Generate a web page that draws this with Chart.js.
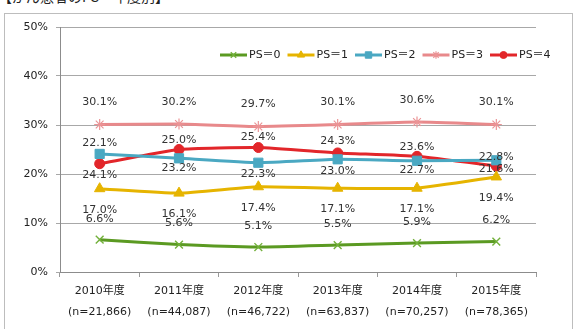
<!DOCTYPE html>
<html>
<head>
<meta charset="utf-8">
<script src="https://cdn.jsdelivr.net/npm/chart.js@4.4.1/dist/chart.umd.min.js"></script>
<style>
  body { margin: 0; background: #fff; }
  #wrap { position: relative; width: 576px; height: 329px; overflow: hidden; }
  #frame { position: absolute; left: 4px; top: 13px; width: 569px; height: 340px; border: 1px solid #bdbdbd; box-sizing: border-box; }
  #title { position: absolute; left: -2px; top: -12px; font: 14px/16px "Noto Sans CJK JP", sans-serif; color: #222; white-space: nowrap; }
  canvas { position: absolute; left: 0; top: 0; }
</style>
</head>
<body>
<div id="wrap">
  <div id="frame"></div>
  <div id="title">【がん患者のPS・年度別】</div>
  <canvas id="myChart" width="576" height="329"></canvas>
</div>
<script>
const years = ['2010年度', '2011年度', '2012年度', '2013年度', '2014年度', '2015年度']
const counts = ['(n=21,866)', '(n=44,087)', '(n=46,722)', '(n=63,837)', '(n=70,257)', '(n=78,365)']
const yTicks = [0, 10, 20, 30, 40, 50]

const ps0 = [6.6, 5.6, 5.1, 5.5, 5.9, 6.2]
const ps1 = [17.0, 16.1, 17.4, 17.1, 17.1, 19.4]
const ps2 = [24.1, 23.2, 22.3, 23.0, 22.7, 22.8]
const ps3 = [30.1, 30.2, 29.7, 30.1, 30.6, 30.1]
const ps4 = [22.1, 25.0, 25.4, 24.3, 23.6, 21.6]

const FONT = '"DejaVu Sans", "Noto Sans CJK JP", sans-serif'

// label offsets (px) from each point, negative = above
const labelShift = [
  [-21, -21, -21, -21, -21, -21],
  [21, 21, 21, 21, 21, 21],
  [21, 10, 11, 12, 9, -3],
  [-22, -22, -22, -22, -22, -22],
  [-21, -9, -10, -12, -9, 3],
]

const series = [
  { label: 'PS＝0', data: ps0, color: '#5b9a22', marker: '#72b03a', style: 'crossRot', r: 5.5, bw: 1.4 },
  { label: 'PS＝1', data: ps1, color: '#e6b400', marker: '#e6b400', style: 'triangle', r: 6, bw: 1 },
  { label: 'PS＝2', data: ps2, color: '#4aa8c2', marker: '#4aa8c2', style: 'rect', r: 6.5, bw: 1 },
  { label: 'PS＝3', data: ps3, color: '#e8898b', marker: '#eb9496', style: 'star', r: 5.5, bw: 1.2 },
  { label: 'PS＝4', data: ps4, color: '#e2262a', marker: '#e2262a', style: 'circle', r: 5, bw: 1 },
]

const valueLabels = {
  id: 'valueLabels',
  afterDatasetsDraw(chart) {
    const ctx = chart.ctx
    ctx.save()
    ctx.font = '11px ' + FONT
    ctx.fillStyle = '#333'
    ctx.textAlign = 'center'
    ctx.textBaseline = 'middle'
    chart.data.datasets.forEach((ds, di) => {
      chart.getDatasetMeta(di).data.forEach((pt, i) => {
        ctx.fillText(ds.data[i].toFixed(1) + '%', pt.x, pt.y + labelShift[di][i])
      })
    })
    ctx.restore()
  }
}

const lineLegend = {
  id: 'lineLegend',
  afterDraw(chart) {
    const ctx = chart.ctx
    const y = 55
    let x = 220
    ctx.save()
    ctx.font = '11px ' + FONT
    ctx.textBaseline = 'middle'
    chart.data.datasets.forEach(ds => {
      ctx.strokeStyle = ds.borderColor
      ctx.lineWidth = 3
      ctx.beginPath()
      ctx.moveTo(x, y)
      ctx.lineTo(x + 27, y)
      ctx.stroke()
      ctx.fillStyle = ds.pointBackgroundColor
      ctx.strokeStyle = ds.pointBorderColor
      ctx.lineWidth = ds.pointBorderWidth
      Chart.helpers.drawPoint(ctx, {
        pointStyle: ds.pointStyle,
        radius: ds.pointRadius * 0.7,
        borderWidth: ds.pointBorderWidth,
        rotation: 0
      }, x + 13.5, y)
      ctx.fillStyle = '#222'
      ctx.fillText(ds.label, x + 29, y)
      x += 67.5
    })
    ctx.restore()
  }
}

const ctx = document.getElementById('myChart')

new Chart(ctx, {
  type: 'line',
  data: {
    labels: years.map((y, i) => [y, counts[i]]),
    datasets: series.map(s => ({
      label: s.label,
      data: s.data,
      borderColor: s.color,
      backgroundColor: s.marker,
      pointBorderColor: s.marker,
      pointBackgroundColor: s.marker,
      pointStyle: s.style,
      pointRadius: s.r,
      pointBorderWidth: s.bw,
      borderWidth: 3,
      tension: 0.15,
      fill: false
    }))
  },
  options: {
    responsive: false,
    animation: false,
    layout: { padding: { top: 27, right: 40, left: 0, bottom: 0 } },
    plugins: {
      legend: { display: false },
      tooltip: { enabled: false }
    },
    scales: {
      x: {
        offset: true,
        grid: { offset: true, drawOnChartArea: false, drawTicks: true, tickLength: 5, color: '#999' },
        border: { color: '#8c8c8c' },
        ticks: {
          color: '#222',
          padding: 4,
          maxRotation: 0,
          font: { family: FONT, size: 11, lineHeight: 1.9 }
        },
        afterFit: scale => { scale.height = 57 }
      },
      y: {
        min: 0,
        max: 50,
        afterBuildTicks: scale => { scale.ticks = yTicks.map(v => ({ value: v })) },
        grid: { color: '#a8a8a8', tickLength: 4 },
        border: { color: '#8c8c8c' },
        ticks: {
          color: '#222',
          padding: 8,
          font: { family: FONT, size: 11 },
          callback: v => v + '%'
        },
        afterFit: scale => { scale.width = 60 }
      }
    }
  },
  plugins: [valueLabels, lineLegend]
})
</script>
</body>
</html>
